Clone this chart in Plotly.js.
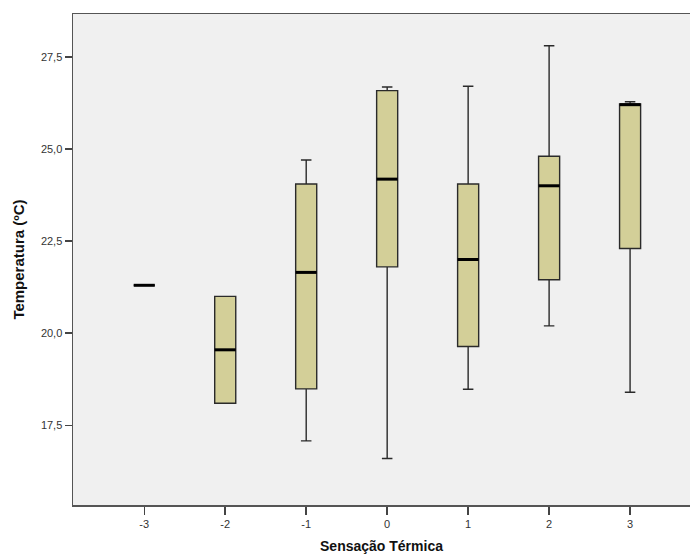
<!DOCTYPE html>
<html>
<head>
<meta charset="utf-8">
<script src="https://cdn.plot.ly/plotly-3.0.1.min.js"></script>
<style>html,body{margin:0;padding:0;background:#fff;}#chart{width:690px;height:556px;}</style>
</head>
<body>
<div id="chart"></div>
<script>
// Categories (Sensação Térmica)
var categories = [-3, -2, -1, 0, 1, 2, 3];
// Box statistics (Temperatura, ºC)
var lowerWhisker = [21.3, 18.1, 17.08, 16.6, 18.48, 20.2, 18.4];
var q1Values     = [21.3, 18.1, 18.49, 21.8, 19.64, 21.45, 22.3];
var medianValues = [21.3, 19.55, 21.65, 24.18, 22.0, 24.0, 26.2];
var q3Values     = [21.3, 21.0, 24.05, 26.58, 24.05, 24.8, 26.22];
var upperWhisker = [21.3, 21.0, 24.7, 26.68, 26.7, 27.8, 26.28];
var yTickValues = [17.5, 20.0, 22.5, 25.0, 27.5];

var boxWidth = 0.26;

var boxTrace = {
  type: 'box',
  x: categories,
  q1: q1Values,
  median: medianValues,
  q3: q3Values,
  lowerfence: lowerWhisker,
  upperfence: upperWhisker,
  width: boxWidth,
  whiskerwidth: 0.5,
  boxpoints: false,
  fillcolor: '#d3cf98',
  line: {color: '#2a2a2a', width: 1.4},
  hoverinfo: 'skip',
  showlegend: false
};

// thick median lines, built from the median array
var mx = [], my = [];
categories.forEach(function (c, i) {
  mx.push(c - boxWidth / 2, c + boxWidth / 2, null);
  my.push(medianValues[i], medianValues[i], null);
});
var medianTrace = {
  type: 'scatter', mode: 'lines', x: mx, y: my,
  line: {color: '#000000', width: 3},
  hoverinfo: 'skip', showlegend: false
};

var layout = {
  width: 690, height: 556,
  margin: {l: 73, r: 0, t: 14, b: 51},
  paper_bgcolor: '#ffffff',
  plot_bgcolor: '#f0f0f0',
  separators: ',.',
  font: {family: 'Liberation Sans, Arial, sans-serif', size: 11, color: '#333333'},
  xaxis: {
    range: [-3.88, 3.74],
    tickmode: 'array',
    tickvals: categories,
    ticktext: categories.map(String),
    ticks: 'outside', ticklen: 8, tickwidth: 1.5, tickcolor: '#444444',
    showline: true, linecolor: '#555555', linewidth: 1.5, mirror: true,
    showgrid: false, zeroline: false,
    tickfont: {size: 11, color: '#333333'},
    title: {text: 'Sensação Térmica', font: {size: 14, color: '#111111', family: 'Liberation Sans, Arial, sans-serif', weight: 'bold'}, standoff: 12},
    fixedrange: true
  },
  yaxis: {
    range: [15.34, 28.66],
    tickmode: 'array',
    tickvals: yTickValues,
    tickformat: '.1f',
    ticks: 'outside', ticklen: 7, tickwidth: 1.5, tickcolor: '#444444',
    showline: true, linecolor: '#555555', linewidth: 1.5, mirror: false,
    showgrid: false, zeroline: false,
    tickfont: {size: 11, color: '#333333'},
    title: {text: 'Temperatura (ºC)', font: {size: 15, color: '#111111', family: 'Liberation Sans, Arial, sans-serif', weight: 'bold'}, standoff: 12},
    fixedrange: true
  }
};

Plotly.newPlot('chart', [boxTrace, medianTrace], layout, {displayModeBar: false, staticPlot: true});
</script>
</body>
</html>
